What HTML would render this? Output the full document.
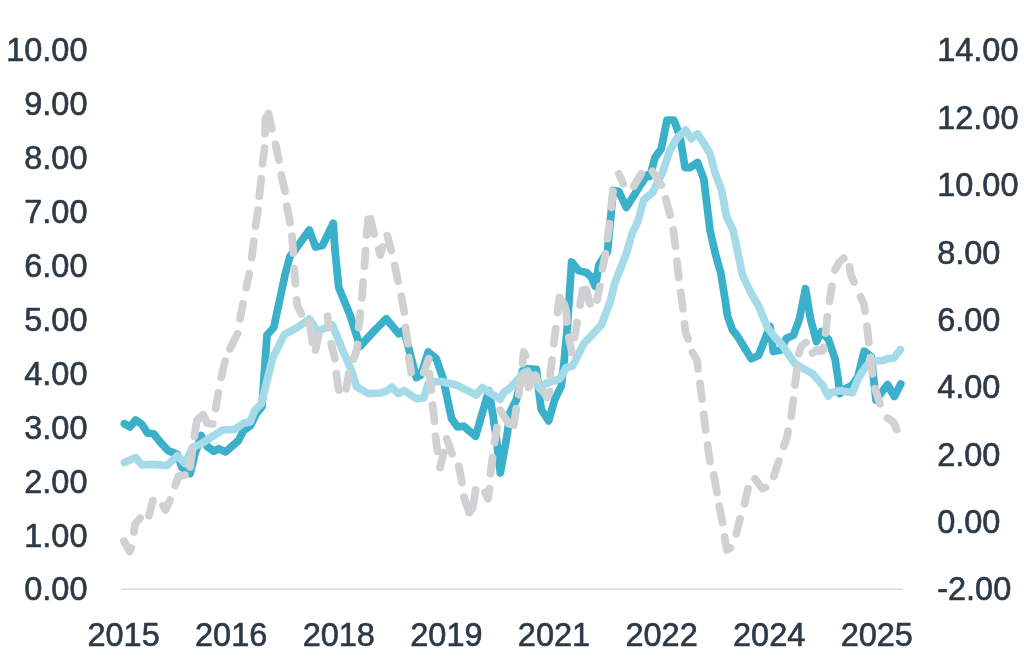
<!DOCTYPE html>
<html><head><meta charset="utf-8"><title>Chart</title>
<style>
html,body{margin:0;padding:0;background:#fff;}
body{width:1024px;height:661px;overflow:hidden;}
svg{display:block;}
text{font-family:"Liberation Sans",sans-serif;font-size:32.5px;fill:#2C3946;stroke:#2C3946;stroke-width:0.6px;stroke-linejoin:round;}
.l{fill:none;stroke-width:7.75;stroke-linecap:round;stroke-linejoin:round;}
</style></head><body>
<svg width="1024" height="661" viewBox="0 0 1024 661">
<rect width="1024" height="661" fill="#fff"/>
<line x1="121" y1="589.3" x2="903" y2="589.3" stroke="#D9D9D9" stroke-width="1.6"/>

<g text-anchor="end">
<text x="87.5" y="61.4">10.00</text>
<text x="87.5" y="115.4">9.00</text>
<text x="87.5" y="169.4">8.00</text>
<text x="87.5" y="223.4">7.00</text>
<text x="87.5" y="277.4">6.00</text>
<text x="87.5" y="331.4">5.00</text>
<text x="87.5" y="385.4">4.00</text>
<text x="87.5" y="439.4">3.00</text>
<text x="87.5" y="493.4">2.00</text>
<text x="87.5" y="547.4">1.00</text>
<text x="87.5" y="600.4">0.00</text>
</g><g text-anchor="start">
<text x="937.2" y="61.4">14.00</text>
<text x="937.2" y="128.8">12.00</text>
<text x="937.2" y="196.2">10.00</text>
<text x="937.2" y="263.6">8.00</text>
<text x="937.2" y="330.9">6.00</text>
<text x="937.2" y="398.4">4.00</text>
<text x="937.2" y="465.7">2.00</text>
<text x="937.2" y="533.1">0.00</text>
<text x="937.2" y="600.4">-2.00</text>
</g><g text-anchor="middle">
<text x="123.6" y="646.2">2015</text>
<text x="231.2" y="646.2">2016</text>
<text x="338.8" y="646.2">2018</text>
<text x="446.4" y="646.2">2019</text>
<text x="554" y="646.2">2021</text>
<text x="661.6" y="646.2">2022</text>
<text x="769.2" y="646.2">2024</text>
<text x="876.8" y="646.2">2025</text>
</g>
<polyline class="l" stroke="#3AB0CA" points="124.40,423.75 130.00,426.90 135.60,420.00 141.90,424.40 147.50,433.10 153.75,433.75 160.60,442.50 168.10,450.60 177.50,454.40 181.90,467.50 190.00,473.75 195.00,453.75 201.25,435.60 206.90,446.25 213.75,451.25 218.75,448.75 225.60,451.90 238.50,440.50 243.50,430.50 250.50,425.50 256.25,413.75 262.00,406.50 267.00,335.00 273.75,327.50 285.00,275.00 290.00,256.25 295.00,250.00 309.25,230.00 315.50,247.00 322.50,245.50 333.25,223.25 335.00,250.00 338.75,287.50 350.00,315.00 360.00,346.25 375.00,330.00 386.25,318.75 398.75,333.75 404.00,330.00 416.25,377.50 421.00,375.00 428.20,352.00 436.30,358.80 443.20,379.00 448.30,403.00 451.50,418.50 457.50,426.90 463.75,426.25 475.60,436.25 488.80,390.60 492.50,412.50 496.25,437.50 500.30,473.00 507.50,432.50 510.00,412.50 516.25,400.00 518.00,393.00 522.50,371.00 525.00,368.50 536.40,369.30 539.30,395.00 541.30,409.50 548.70,420.80 555.00,398.75 561.25,386.25 563.75,365.00 567.50,325.00 571.60,262.00 578.50,270.50 586.25,272.50 591.25,277.00 595.30,286.50 598.90,265.00 604.50,256.00 607.50,252.00 613.20,190.50 618.75,191.25 626.25,207.50 635.00,193.75 641.25,183.75 647.50,175.00 650.00,176.25 655.00,157.50 661.25,148.75 667.00,120.00 673.75,120.00 680.00,136.25 685.00,167.50 690.00,167.50 697.50,162.50 703.75,178.75 710.00,230.00 715.00,252.50 720.80,273.00 725.00,299.00 727.50,316.00 732.50,330.00 737.50,336.25 751.25,358.75 758.50,355.50 770.00,326.40 773.40,351.50 781.00,350.00 786.25,338.50 793.50,335.00 799.50,318.75 805.50,288.75 810.50,319.00 816.50,341.50 821.50,331.50 828.50,339.50 835.00,358.75 838.30,380.00 839.80,393.60 845.60,388.60 851.80,385.50 857.90,377.00 864.20,351.20 871.20,356.50 876.00,400.00 887.50,384.50 894.40,396.50 900.80,384.00"/>
<polyline class="l" stroke="#A5DBE8" points="124.40,462.50 135.60,457.50 141.90,465.00 152.50,464.40 166.90,465.60 177.50,455.60 185.00,463.75 192.50,447.50 201.25,443.75 210.00,438.10 222.50,430.00 235.00,429.40 243.75,423.10 250.00,421.90 255.00,410.00 261.25,404.00 272.50,358.75 284.40,334.40 297.50,327.50 309.25,318.75 317.50,331.25 332.50,325.00 342.50,350.00 351.25,370.00 356.50,386.50 361.50,389.60 368.75,393.60 380.00,393.00 386.25,391.25 391.90,387.00 398.10,393.60 404.40,390.60 416.25,398.60 423.75,398.00 428.30,383.00 434.00,381.80 441.25,381.40 456.25,385.00 465.00,389.40 476.25,395.00 482.40,387.60 490.00,392.80 500.20,399.30 503.75,392.50 510.00,388.10 517.50,380.00 523.75,372.50 527.50,371.00 540.00,388.75 545.00,383.75 560.00,378.75 566.25,367.50 572.50,366.25 583.75,343.75 601.25,325.00 610.00,302.50 615.00,282.50 626.25,253.75 632.50,232.50 637.50,222.50 643.75,200.00 652.50,192.50 662.50,172.50 670.00,150.00 677.50,137.50 685.50,130.00 691.25,138.75 697.50,133.75 705.00,145.00 710.00,153.75 715.00,172.50 721.50,190.00 726.50,216.50 733.00,230.00 738.75,257.00 742.50,275.00 750.00,291.25 758.75,306.25 767.50,327.50 775.00,337.50 781.25,343.75 795.00,363.75 812.50,373.75 822.50,385.00 828.20,396.00 831.25,392.50 840.00,390.60 852.50,392.80 857.50,380.00 862.50,371.25 868.10,364.00 876.25,360.80 883.00,360.30 888.00,358.50 894.00,358.00 900.40,349.60"/>
<g class="l" stroke="#D0D1D3">
<polyline points="124.00,541.25 129.75,551.50 131.25,548.00"/>
<polyline points="134.00,531.90 135.00,524.40 140.00,518.10"/>
<polyline points="149.00,515.60 152.90,500.60"/>
<polyline points="163.10,505.60 165.60,510.00 170.00,500.00"/>
<polyline points="175.25,485.60 178.50,476.00 185.00,475.20"/>
<polyline points="190.00,466.90 192.50,450.00"/>
<polyline points="194.30,436.40 197.00,420.20 203.20,414.60 207.20,423.20 212.80,424.00"/>
<polyline points="215.60,408.50 218.40,393.00"/>
<polyline points="221.25,377.50 225.00,361.25"/>
<polyline points="230.00,348.75 237.50,333.75"/>
<polyline points="240.00,318.75 243.00,303.75"/>
<polyline points="246.25,287.50 249.25,273.75"/>
<polyline points="251.75,257.50 253.75,241.25"/>
<polyline points="255.50,226.25 258.00,210.00"/>
<polyline points="259.25,196.25 261.25,178.75"/>
<polyline points="262.50,163.75 264.50,148.00"/>
<polyline points="265.00,133.50 265.40,118.50 268.50,113.60 271.90,128.75"/>
<polyline points="275.60,144.40 278.90,160.00"/>
<polyline points="281.25,175.00 285.00,191.25"/>
<polyline points="286.75,206.25 290.00,222.50"/>
<polyline points="292.00,236.25 293.30,253.00"/>
<polyline points="294.10,268.75 295.40,283.75"/>
<polyline points="296.60,300.00 297.40,305.50 301.40,314.00"/>
<polyline points="309.25,322.50 312.50,342.50"/>
<polyline points="315.50,350.00 318.75,335.00"/>
<polyline points="327.50,316.25 328.75,327.50"/>
<polyline points="331.25,343.75 335.00,358.75"/>
<polyline points="336.25,373.75 338.75,390.00"/>
<polyline points="346.25,388.75 348.75,373.75"/>
<polyline points="353.50,359.00 356.80,350.50 357.60,344.50"/>
<polyline points="358.75,327.50 360.30,313.00"/>
<polyline points="361.90,298.00 363.10,282.00"/>
<polyline points="364.40,266.25 365.60,250.60"/>
<polyline points="366.60,235.00 368.10,219.40 370.60,219.00 374.00,234.00"/>
<polyline points="378.75,249.40 380.25,255.00 382.90,246.90"/>
<polyline points="387.25,235.60 391.25,250.60"/>
<polyline points="394.75,265.60 398.10,281.25"/>
<polyline points="401.25,296.25 404.20,312.00"/>
<polyline points="405.50,327.50 408.00,343.75"/>
<polyline points="408.75,357.50 411.25,372.50"/>
<polyline points="423.75,372.50 428.75,358.75"/>
<polyline points="429.50,373.75 431.25,390.00"/>
<polyline points="432.50,405.00 434.50,421.25"/>
<polyline points="435.50,436.25 437.50,451.25"/>
<polyline points="440.00,467.50 443.75,452.50"/>
<polyline points="446.75,438.75 452.00,453.75"/>
<polyline points="458.75,466.25 462.00,482.50"/>
<polyline points="463.90,497.00 469.20,512.80 472.80,508.00 475.60,490.00"/>
<polyline points="485.00,492.50 488.00,498.75 489.50,488.75"/>
<polyline points="490.50,473.75 492.50,457.50"/>
<polyline points="494.50,442.50 497.00,427.50"/>
<polyline points="500.00,410.00 508.75,423.75 513.75,425.00 516.25,408.75"/>
<polyline points="518.80,394.50 520.30,381.00 522.50,376.00 526.40,373.50 528.60,387.50 535.80,375.00 537.30,380.50"/>
<polyline points="522.50,363.50 523.80,351.80 525.60,355.80"/>
<polyline points="542.50,391.00 547.20,397.50 549.40,391.50"/>
<polyline points="550.00,375.00 552.00,360.00"/>
<polyline points="553.75,343.75 555.75,328.75"/>
<polyline points="557.50,312.50 559.40,297.50 564.50,305.00 566.50,313.00 566.90,322.00"/>
<polyline points="568.75,337.50 572.00,352.50"/>
<polyline points="574.50,337.50 577.00,322.50"/>
<polyline points="580.00,305.00 582.50,290.00 586.25,289.40 590.00,303.75"/>
<polyline points="597.00,300.00 600.00,286.25"/>
<polyline points="602.50,268.75 605.50,253.75"/>
<polyline points="607.50,238.75 609.50,223.75"/>
<polyline points="611.25,207.50 613.00,191.25"/>
<polyline points="618.75,173.75 623.25,183.75"/>
<polyline points="633.75,186.25 641.25,173.75"/>
<polyline points="652.50,171.25 661.25,185.00"/>
<polyline points="665.75,198.75 670.00,215.00"/>
<polyline points="673.25,230.00 675.50,246.25"/>
<polyline points="677.00,261.25 678.75,277.50"/>
<polyline points="680.75,292.50 683.00,308.75"/>
<polyline points="684.40,323.75 685.60,332.50 688.00,339.00"/>
<polyline points="692.50,352.50 697.00,360.00 698.00,368.75"/>
<polyline points="700.00,383.40 702.00,399.00"/>
<polyline points="703.75,414.40 705.60,430.00"/>
<polyline points="707.50,445.00 710.00,461.25"/>
<polyline points="713.75,475.00 717.00,492.50"/>
<polyline points="719.25,506.25 722.50,522.50"/>
<polyline points="724.50,537.00 727.00,550.00 730.50,548.00"/>
<polyline points="736.25,533.75 740.00,518.75"/>
<polyline points="744.50,503.75 748.00,488.75"/>
<polyline points="755.00,478.75 762.50,488.75 765.50,487.50"/>
<polyline points="773.75,476.25 778.75,461.25"/>
<polyline points="783.75,446.25 786.90,437.50 788.10,431.25"/>
<polyline points="791.25,416.25 793.25,400.00"/>
<polyline points="795.00,385.00 797.00,368.75"/>
<polyline points="798.90,353.50 801.50,346.00 806.00,342.30"/>
<polyline points="812.60,353.00 817.00,349.50 819.50,351.50 822.80,350.50 823.60,347.50"/>
<polyline points="825.60,333.10 827.30,316.90"/>
<polyline points="829.40,301.25 831.90,286.25"/>
<polyline points="835.00,270.00 839.40,261.90 843.75,258.10"/>
<polyline points="849.40,266.90 851.25,276.25 854.00,281.90"/>
<polyline points="860.60,296.90 864.20,305.00 865.00,311.25"/>
<polyline points="867.00,326.25 868.75,342.50"/>
<polyline points="870.50,357.50 872.50,373.75"/>
<polyline points="875.00,388.75 880.00,403.75"/>
<polyline points="887.50,418.00 893.75,422.50 896.75,429.50"/>
</g>
</svg></body></html>
